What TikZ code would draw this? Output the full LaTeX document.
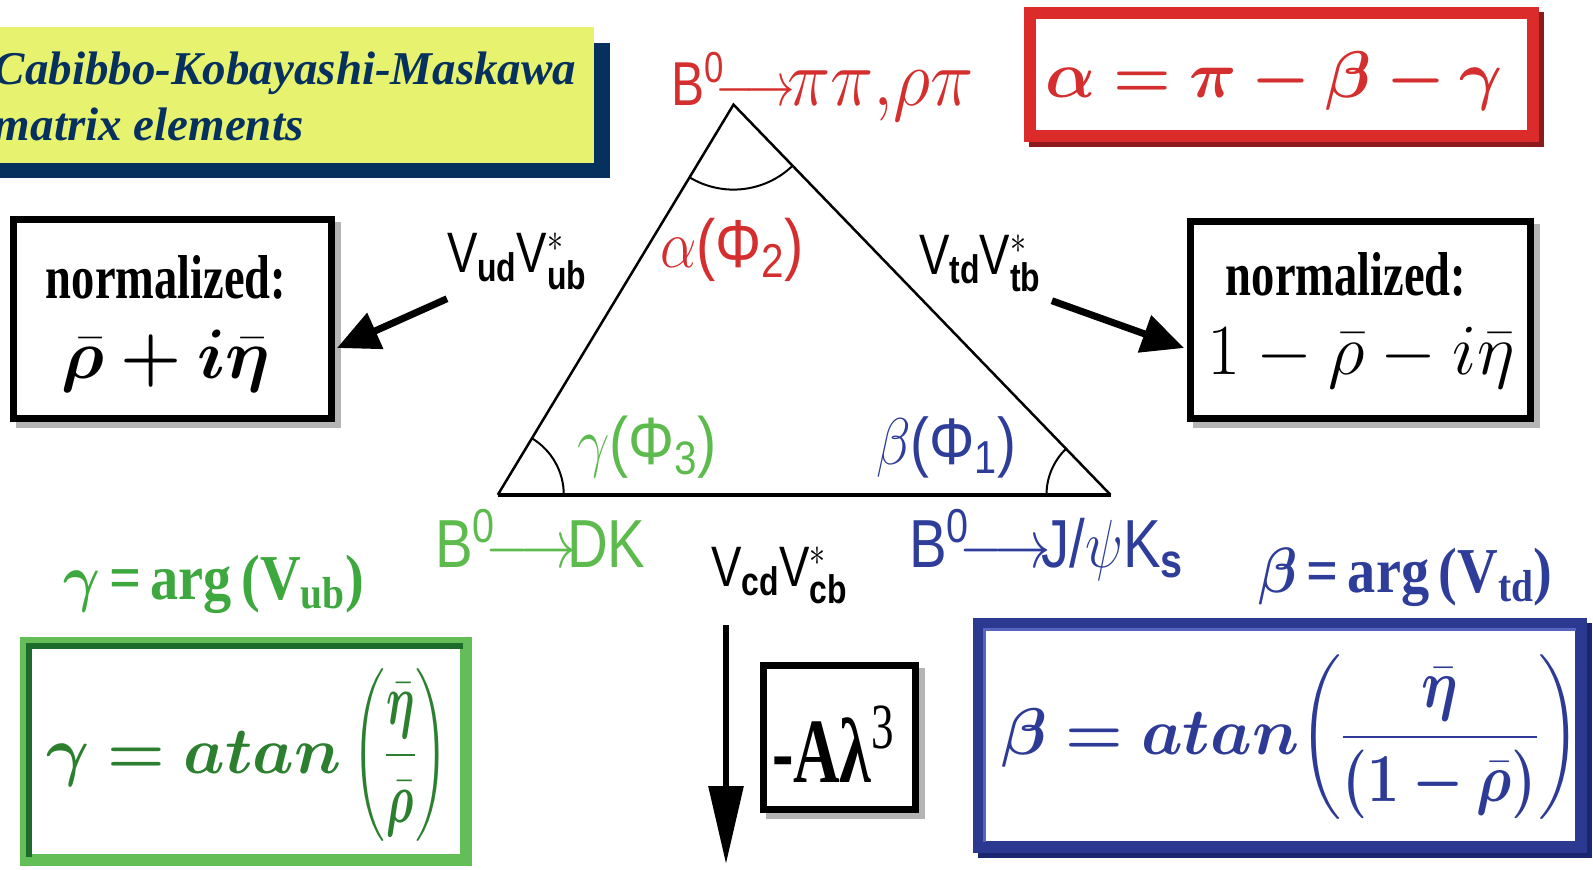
\RequirePackage{fix-cm}
\documentclass[tikz,border=0pt]{standalone}
\usepackage{amsmath,amssymb,bm}
\usepackage{fontspec}
\setmainfont{Liberation Serif}
\setsansfont{Liberation Sans}
\usepackage{graphicx}
\usetikzlibrary{calc,arrows.meta}
\pgfdeclarelayer{bg}
\pgfsetlayers{bg,main}
\definecolor{navyc}{HTML}{06315F}
\definecolor{yellowc}{HTML}{E7F36F}
\definecolor{redc}{HTML}{D42E2E}
\definecolor{redbox}{HTML}{DC2B2B}
\definecolor{redsh}{HTML}{8E1B1B}
\definecolor{greenlab}{HTML}{5DBB4E}
\definecolor{greenarg}{HTML}{3DA83D}
\definecolor{greenbox}{HTML}{63BE57}
\definecolor{greendk}{HTML}{1D6B2B}
\definecolor{greentxt}{HTML}{2B7F2F}
\definecolor{bluelab}{HTML}{2E3D99}
\definecolor{bluebox}{HTML}{2B3990}
\definecolor{bluesh}{HTML}{1B2570}
\definecolor{bluelt}{HTML}{5565C0}
\definecolor{bluetxt}{HTML}{2D3A96}
\definecolor{shgray}{HTML}{B5B5B5}
\newcommand{\cnd}[2]{\scalebox{#1}[1]{#2}}
\newcommand{\shad}[4]{\fill[#4] ($(#1.north west)+(-#2+#3,#2-#3)$) rectangle ($(#1.south east)+(#2+#3,-#2-#3)$);}
\begin{document}
\begin{tikzpicture}[x=1pt,y=1pt,
  lab/.style={inner sep=0pt,outer sep=0pt},
  tri/.style={line width=2.5pt,line join=miter},
  ang/.style={line width=2pt},
  blkbox/.style={draw=black,line width=7pt,fill=white,outer sep=0pt,inner sep=0pt},
  colbox/.style={line width=12pt,fill=white,outer sep=0pt,inner sep=0pt},
  fat/.style={line width=7pt,-{Triangle[length=42pt,width=38pt]}},
  sanslab/.style={lab,anchor=base west,font={\fontsize{#1}{#1}\selectfont\sffamily}},
  seriflab/.style={lab,anchor=base west,font={\fontsize{#1}{#1}\selectfont}},
]
\useasboundingbox (0,0) rectangle (1593,-870);
% title
\fill[navyc] (0,-43) rectangle (610,-178);
\fill[yellowc] (0,-27) rectangle (594,-163);
\node[lab,anchor=base west,text=navyc,font={\fontsize{47}{47}\selectfont\bfseries\itshape}] (t1) at (-6,-84) {Cabibbo-Kobayashi-Maskawa};
\node[lab,anchor=base west,text=navyc,font={\fontsize{47}{47}\selectfont\bfseries\itshape}] (t2) at (-6,-140) {matrix elements};

% triangle
\coordinate (A) at (733.5,-104.6);
\coordinate (G) at (497.8,-494.8);
\coordinate (Bv) at (1110.5,-494.8);
\draw[tri] (G) -- (A) -- (Bv);
\draw[line width=4pt] (G) -- (Bv);
\draw[ang] ($(A)+(238.9:85)$) arc[start angle=238.9,end angle=314,radius=85];
\draw[ang] ($(G)+(0:66)$) arc[start angle=0,end angle=58.9,radius=66];
\draw[ang] ($(Bv)+(134:64)$) arc[start angle=134,end angle=180,radius=64];

% labels
\node[sanslab=62,text=redc] (bpp) at (671,-105) {\cnd{0.8}{B\textsuperscript{0}$\!\longrightarrow\!$}\scalebox{1.18}[1.3]{$\pi\pi,\!\rho\pi$}};
\node[sanslab=68,text=redc] (alab) at (660,-267) {\cnd{0.85}{$\alpha$(Φ\textsubscript{2})}};
\node[sanslab=57] (vud) at (447,-272) {\cnd{0.8}{V$_{\textbf{ud}}$V$^{*}_{\textbf{ub}}$}};
\node[sanslab=57] (vtd) at (919,-274) {\cnd{0.8}{V$_{\textbf{td}}$V$^{*}_{\textbf{tb}}$}};
\node[sanslab=67,text=greenlab] (glab) at (577,-464) {\cnd{0.86}{$\gamma$(Φ\textsubscript{3})}};
\node[sanslab=66,text=bluelab] (blab) at (876,-464) {\cnd{0.86}{$\beta$(Φ\textsubscript{1})}};
\node[sanslab=68,text=greenlab] (bdk) at (435,-567) {\cnd{0.83}{B\textsuperscript{0}$\!\longrightarrow\!$DK}};
\node[sanslab=57] (vcd) at (711,-586) {\cnd{0.8}{V$_{\textbf{cd}}$V$^{*}_{\textbf{cb}}$}};
\node[sanslab=68,text=bluelab] (bjk) at (909,-567) {\cnd{0.83}{B\textsuperscript{0}$\!\longrightarrow\!$J/$\psi$K$_{\textbf{s}}$}};
\node[seriflab=64,text=greenarg] (garg) at (63,-599) {\cnd{0.88}{\bfseries$\boldsymbol\gamma$\,=\,arg\,(V\textsubscript{ub})}};
\node[seriflab=64,text=bluelab] (barg) at (1258,-592) {\cnd{0.88}{\bfseries$\boldsymbol\beta$\,=\,arg\,(V\textsubscript{td})}};

% boxes
\node[colbox,draw=redbox,minimum width=503pt,minimum height=123pt] (rbox) at (1281.5,-74.5) {};
\node[lab,anchor=base,text=redc,font={\fontsize{66}{66}\selectfont}] (rtxt) at (1274,-97) {$\boldsymbol{\alpha=\pi-\beta-\gamma}$};

\node[blkbox,minimum width=318pt,minimum height=199pt] (lbox) at (172.5,-319) {};
\node[lab,anchor=base,font={\fontsize{62}{62}\selectfont\bfseries}] (ln1) at (166,-298) {\cnd{0.75}{normalized:}};
\node[lab,anchor=base,font={\fontsize{70}{70}\selectfont}] (ln2) at (166,-378) {$\boldsymbol{\bar\rho+i\bar\eta}$};

\node[blkbox,minimum width=340pt,minimum height=197pt] (rnbox) at (1360.5,-320) {};
\node[lab,anchor=base,font={\fontsize{62}{62}\selectfont\bfseries}] (rn1) at (1346,-295) {\cnd{0.75}{normalized:}};
\node[lab,anchor=base,font={\fontsize{72}{72}\selectfont}] (rn2) at (1361,-374) {$1-\bar\rho-i\bar\eta$};

\node[blkbox,minimum width=152pt,minimum height=144pt] (abox) at (839.5,-737.5) {};
\node[lab,anchor=base west,font={\fontsize{92}{92}\selectfont}] (atxt) at (772,-782) {\cnd{0.7}{\textbf{-Aλ}\textsuperscript{3}}};

\node[colbox,draw=greenbox,minimum width=440pt,minimum height=217pt] (gbox) at (246,-751.5) {};
\draw[greendk,line width=6pt] ($(gbox.south west)+(3,3)$) -- ($(gbox.north west)+(3,-3)$) -- ($(gbox.north east)+(-3,-3)$);
\node[lab,anchor=west,text=greentxt,font={\fontsize{66}{66}\selectfont}] (gtxt) at (46,-755) {$\boldsymbol{\gamma = atan}$\,\cnd{0.62}{\fontsize{72}{72}\selectfont$\left(\dfrac{\boldsymbol{\bar\eta}}{\boldsymbol{\bar\rho}}\right)$}};

\node[colbox,draw=bluebox,minimum width=602pt,minimum height=223pt] (bbox) at (1280,-735.5) {};
\draw[bluelt,line width=3pt] ($(bbox.south west)+(5,5)$) -- ($(bbox.north west)+(5,-5)$) -- ($(bbox.north east)+(-5,-5)$);
\node[lab,anchor=west,text=bluetxt,font={\fontsize{66}{66}\selectfont}] (btxt) at (1001,-737) {$\boldsymbol{\beta = atan}$\scalebox{0.87}[1.04]{$\left(\dfrac{\boldsymbol{\bar\eta}}{\boldsymbol{(1-\bar\rho)}}\right)$}};

% shadows
\begin{pgfonlayer}{bg}
\shad{lbox}{3.5}{6}{shgray}
\shad{rnbox}{3.5}{6}{shgray}
\shad{abox}{3.5}{6}{shgray}
\shad{rbox}{6}{5}{redsh}
\shad{bbox}{6}{5}{bluesh}
\end{pgfonlayer}

% arrows
\draw[fat] ($(vud.south west)+(0,-9)$) -- ($(lbox.east)+(5.5,-29)$);
\draw[fat] ($(vtd.south east)+(11,-9)$) -- ($(rnbox.west)+(-6.5,-28)$);
\coordinate (dtop) at (726,-625);
\coordinate (dbot) at (726,-864);
\draw[line width=6pt,-{Triangle[length=78pt,width=34pt]}] (dtop) -- (dbot);
\end{tikzpicture}
\end{document}
